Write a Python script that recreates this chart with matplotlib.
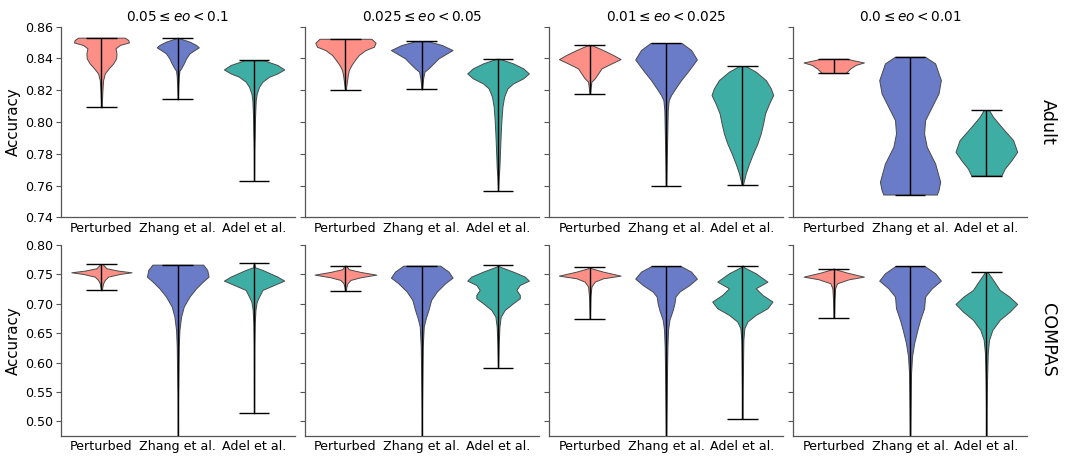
import matplotlib
matplotlib.use("Agg")
import matplotlib.pyplot as plt
import numpy as np

methods = ["Perturbed", "Zhang et al.", "Adel et al."]
eo_bins = [r"$0.05 \leq eo < 0.1$", r"$0.025 \leq eo < 0.05$",
           r"$0.01 \leq eo < 0.025$", r"$0.0 \leq eo < 0.01$"]
datasets = ["Adult", "COMPAS"]
colors = ["#fd8f87", "#6a7bc8", "#3eaea5"]

# violin outlines: (accuracy, half width), from the top cap
# down to the bottom cap, one list per eo bin
adult_perturbed = [
    [(0.8531, 0.307), (0.8516, 0.351), (0.8501, 0.360), (0.8485, 0.241), (0.8464, 0.184),
     (0.8432, 0.197), (0.8401, 0.193), (0.8369, 0.154), (0.8338, 0.096), (0.8306, 0.044),
     (0.8264, 0.022), (0.8201, 0.013), (0.8138, 0.007), (0.8092, 0.002)],
    [(0.8524, 0.340), (0.8499, 0.395), (0.8474, 0.373), (0.8453, 0.263), (0.8422, 0.175),
     (0.8390, 0.123), (0.8359, 0.079), (0.8327, 0.044), (0.8296, 0.031), (0.8264, 0.022),
     (0.8233, 0.013), (0.8201, 0.004)],
    [(0.8482, 0.035), (0.8453, 0.175), (0.8422, 0.307), (0.8396, 0.404), (0.8369, 0.285),
     (0.8338, 0.154), (0.8306, 0.110), (0.8275, 0.066), (0.8254, 0.022), (0.8222, 0.013),
     (0.8178, 0.004)],
    [(0.8398, 0.175), (0.8388, 0.263), (0.8375, 0.395), (0.8359, 0.285), (0.8338, 0.219),
     (0.8317, 0.175), (0.8308, 0.154)],
]
adult_zhang = [
    [(0.8531, 0.005), (0.8527, 0.022), (0.8506, 0.154), (0.8485, 0.241), (0.8470, 0.276),
     (0.8453, 0.219), (0.8432, 0.154), (0.8401, 0.110), (0.8369, 0.079), (0.8338, 0.044),
     (0.8323, 0.022), (0.8285, 0.013), (0.8222, 0.007), (0.8142, 0.002)],
    [(0.8508, 0.088), (0.8485, 0.263), (0.8453, 0.404), (0.8432, 0.329), (0.8401, 0.219),
     (0.8369, 0.154), (0.8338, 0.088), (0.8317, 0.035), (0.8275, 0.018), (0.8233, 0.009),
     (0.8205, 0.004)],
    [(0.8497, 0.206), (0.8453, 0.329), (0.8394, 0.404), (0.8359, 0.351), (0.8317, 0.285),
     (0.8264, 0.197), (0.8212, 0.123), (0.8170, 0.066), (0.8138, 0.035), (0.8075, 0.022),
     (0.7970, 0.018), (0.7865, 0.013), (0.7760, 0.009), (0.7598, 0.004)],
    [(0.8411, 0.197), (0.8369, 0.329), (0.8264, 0.404), (0.8180, 0.373), (0.8096, 0.285),
     (0.8012, 0.197), (0.7928, 0.184), (0.7844, 0.219), (0.7739, 0.329), (0.7624, 0.395),
     (0.7572, 0.373), (0.7544, 0.351)],
]
adult_adel = [
    [(0.8388, 0.130), (0.8359, 0.307), (0.8331, 0.395), (0.8306, 0.307), (0.8285, 0.197),
     (0.8254, 0.110), (0.8222, 0.066), (0.8180, 0.035), (0.8138, 0.022), (0.8033, 0.013),
     (0.7928, 0.009), (0.7823, 0.004), (0.7632, 0.002)],
    [(0.8398, 0.022), (0.8369, 0.197), (0.8338, 0.329), (0.8306, 0.404), (0.8275, 0.329),
     (0.8243, 0.197), (0.8212, 0.123), (0.8159, 0.079), (0.8096, 0.057), (0.8012, 0.044),
     (0.7928, 0.035), (0.7823, 0.026), (0.7718, 0.018), (0.7655, 0.009), (0.7569, 0.002)],
    [(0.8352, 0.044), (0.8317, 0.175), (0.8264, 0.307), (0.8212, 0.373), (0.8170, 0.404),
     (0.8117, 0.351), (0.8054, 0.298), (0.7991, 0.272), (0.7928, 0.241), (0.7865, 0.197),
     (0.7802, 0.140), (0.7739, 0.088), (0.7677, 0.044), (0.7634, 0.022), (0.7607, 0.009)],
    [(0.8075, 0.035), (0.8033, 0.088), (0.7970, 0.197), (0.7886, 0.351), (0.7813, 0.404),
     (0.7760, 0.329), (0.7707, 0.241), (0.7663, 0.197)],
]
compas_perturbed = [
    [(0.7677, 0.013), (0.7604, 0.066), (0.7564, 0.219), (0.7536, 0.395), (0.7508, 0.241),
     (0.7462, 0.088), (0.7406, 0.044), (0.7349, 0.022), (0.7293, 0.013), (0.7230, 0.004)],
    [(0.7649, 0.009), (0.7587, 0.044), (0.7542, 0.197), (0.7496, 0.404), (0.7451, 0.197),
     (0.7406, 0.066), (0.7349, 0.026), (0.7293, 0.013), (0.7219, 0.004)],
    [(0.7626, 0.009), (0.7604, 0.022), (0.7547, 0.175), (0.7479, 0.404), (0.7434, 0.175),
     (0.7377, 0.066), (0.7293, 0.022), (0.7123, 0.009), (0.6749, 0.002)],
    [(0.7598, 0.009), (0.7587, 0.022), (0.7530, 0.175), (0.7462, 0.395), (0.7417, 0.197),
     (0.7349, 0.044), (0.7264, 0.018), (0.7066, 0.009), (0.6766, 0.004)],
]
compas_zhang = [
    [(0.7666, 0.333), (0.7576, 0.386), (0.7462, 0.404), (0.7377, 0.329), (0.7264, 0.241),
     (0.7123, 0.154), (0.6953, 0.079), (0.6783, 0.044), (0.6557, 0.022), (0.6274, 0.013),
     (0.5878, 0.009), (0.5425, 0.004), (0.4500, 0.002)],
    [(0.7649, 0.241), (0.7547, 0.351), (0.7445, 0.404), (0.7349, 0.307), (0.7208, 0.197),
     (0.7066, 0.123), (0.6896, 0.088), (0.6755, 0.053), (0.6613, 0.026), (0.6274, 0.013),
     (0.5878, 0.009), (0.5312, 0.004), (0.4500, 0.002)],
    [(0.7638, 0.197), (0.7547, 0.329), (0.7428, 0.404), (0.7321, 0.307), (0.7208, 0.175),
     (0.7123, 0.123), (0.7010, 0.110), (0.6896, 0.088), (0.6727, 0.044), (0.6557, 0.026),
     (0.6274, 0.018), (0.5878, 0.013), (0.5425, 0.009), (0.4500, 0.002)],
    [(0.7638, 0.197), (0.7519, 0.329), (0.7394, 0.404), (0.7264, 0.285), (0.7123, 0.197),
     (0.6925, 0.184), (0.6727, 0.132), (0.6557, 0.096), (0.6330, 0.053), (0.6104, 0.026),
     (0.5821, 0.013), (0.5425, 0.009), (0.4500, 0.002)],
]
compas_adel = [
    [(0.7700, 0.002), (0.7621, 0.013), (0.7576, 0.110), (0.7462, 0.307), (0.7394, 0.395),
     (0.7321, 0.263), (0.7236, 0.110), (0.7123, 0.066), (0.7038, 0.035), (0.6896, 0.018),
     (0.6670, 0.009), (0.6274, 0.004), (0.5136, 0.002)],
    [(0.7655, 0.009), (0.7632, 0.022), (0.7547, 0.197), (0.7462, 0.351), (0.7394, 0.404),
     (0.7321, 0.285), (0.7236, 0.241), (0.7151, 0.285), (0.7094, 0.285), (0.7010, 0.197),
     (0.6896, 0.088), (0.6783, 0.035), (0.6613, 0.018), (0.6330, 0.009), (0.5906, 0.002)],
    [(0.7649, 0.009), (0.7621, 0.022), (0.7519, 0.175), (0.7377, 0.329), (0.7264, 0.175),
     (0.7151, 0.263), (0.7038, 0.395), (0.6925, 0.329), (0.6811, 0.175), (0.6698, 0.066),
     (0.6585, 0.026), (0.6387, 0.013), (0.5991, 0.009), (0.5425, 0.004), (0.5046, 0.002)],
    [(0.7542, 0.009), (0.7530, 0.022), (0.7406, 0.088), (0.7236, 0.175), (0.7123, 0.300),
     (0.6998, 0.404), (0.6868, 0.307), (0.6727, 0.175), (0.6557, 0.079), (0.6387, 0.035),
     (0.6160, 0.018), (0.5708, 0.009), (0.5142, 0.004), (0.4600, 0.002)],
]

violins = {
    "Adult": [adult_perturbed, adult_zhang, adult_adel],
    "COMPAS": [compas_perturbed, compas_zhang, compas_adel],
}
ylims = {"Adult": (0.74, 0.86), "COMPAS": (0.4757, 0.80)}
yticks = {"Adult": np.arange(0.74, 0.861, 0.02), "COMPAS": np.arange(0.50, 0.801, 0.05)}

W, H = 1067, 457
fig = plt.figure(figsize=(W / 100, H / 100), dpi=100)
plt.rcParams['font.family'] = 'DejaVu Sans'

col_left = [61, 305, 549.3, 793.3]
row_top = [26.7, 245]
ax_w, ax_h = 233.5, 190.7
cap = 0.2

for r, ds in enumerate(datasets):
    for c in range(4):
        ax = fig.add_axes([col_left[c] / W, 1 - (row_top[r] + ax_h) / H, ax_w / W, ax_h / H])
        for m in range(3):
            prof = np.array(violins[ds][m][c])
            y, hw = prof[:, 0], prof[:, 1]
            pos = m + 1
            ax.fill_betweenx(y, pos - hw, pos + hw, facecolor=colors[m],
                             edgecolor='#4a4a4a', linewidth=0.7, joinstyle='round', zorder=2)
            ax.vlines(pos, y.min(), y.max(), color='black', linewidth=1.0, zorder=3)
            ax.hlines([y.min(), y.max()], pos - cap, pos + cap, color='black',
                      linewidth=1.0, zorder=3)
        ax.set_xlim(0.47, 3.53)
        ax.set_ylim(*ylims[ds])
        ax.set_yticks(yticks[ds])
        ax.set_xticks([1, 2, 3])
        ax.set_xticklabels(methods, fontsize=9.1)
        ax.tick_params(axis='x', length=0, pad=3)
        ax.tick_params(axis='y', length=3.5, color='#555555', labelsize=9.1, pad=2)
        for s in ['top', 'right']:
            ax.spines[s].set_visible(False)
        for s in ['left', 'bottom']:
            ax.spines[s].set_color('#555555')
            ax.spines[s].set_linewidth(0.9)
        if c == 0:
            ax.set_yticklabels(['%.2f' % t for t in yticks[ds]])
            ax.set_ylabel("Accuracy", fontsize=10.8, labelpad=3)
        else:
            ax.set_yticklabels([])
        if r == 0:
            ax.set_title(eo_bins[c], fontsize=9.8, pad=4)
        if c == 3:
            ax.text(1.09, 0.5, ds, transform=ax.transAxes, rotation=270,
                    fontsize=12.6, ha='center', va='center')

fig.savefig("out.png", dpi=100)
